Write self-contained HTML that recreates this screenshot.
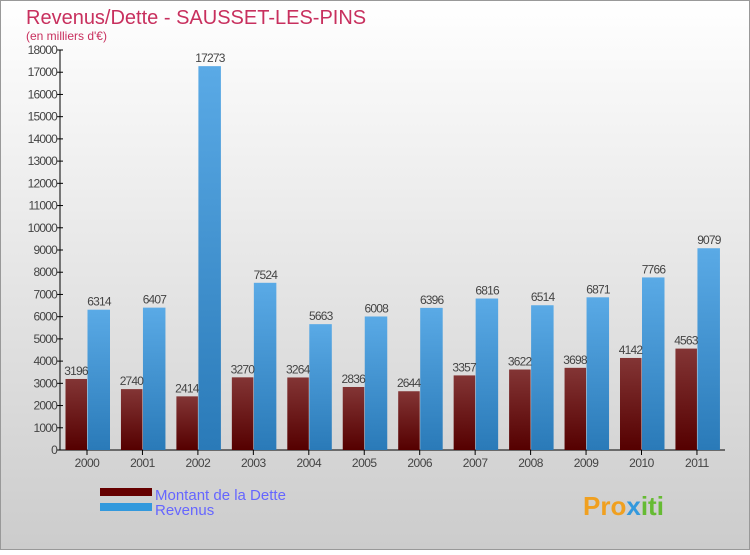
<!DOCTYPE html>
<html><head><meta charset="utf-8"><style>
body{margin:0;width:750px;height:550px;overflow:hidden;font-family:"Liberation Sans",sans-serif}
</style></head><body>
<svg id="c" width="750" height="550" xmlns="http://www.w3.org/2000/svg">
<defs>
<linearGradient id="bg" x1="0" y1="0" x2="0" y2="1"><stop offset="0" stop-color="#ffffff"/><stop offset="1" stop-color="#cccccc"/></linearGradient>
<linearGradient id="gd" x1="0" y1="0" x2="0" y2="1"><stop offset="0" stop-color="#833535"/><stop offset="1" stop-color="#550000"/></linearGradient>
<linearGradient id="gr" x1="0" y1="0" x2="0" y2="1"><stop offset="0" stop-color="#5aaae6"/><stop offset="1" stop-color="#2a7ab8"/></linearGradient>
</defs>
<rect x="0.5" y="0.5" width="749" height="549" fill="url(#bg)" stroke="#999"/>
<text x="26" y="24" font-size="20" fill="#c8305e">Revenus/Dette - SAUSSET-LES-PINS</text>
<text x="26" y="40" font-size="12" fill="#c8305e">(en milliers d'€)</text>
<g id="g"></g>
<rect x="100" y="488" width="52" height="8" fill="#660000"/>
<rect x="100" y="503" width="52" height="8" fill="#3399dd"/>
<text x="155" y="500" font-size="15" fill="#6666ff">Montant de la Dette</text>
<text x="155" y="515" font-size="15" fill="#6666ff">Revenus</text>
<text x="583" y="515" font-size="26" font-weight="bold" fill="#f0a020">Pro<tspan fill="#3399dd">x</tspan><tspan fill="#66bb33">iti</tspan></text>
</svg>
<script>
const years=["2000","2001","2002","2003","2004","2005","2006","2007","2008","2009","2010","2011"];
const dette=[3196,2740,2414,3270,3264,2836,2644,3357,3622,3698,4142,4563];
const revenus=[6314,6407,17273,7524,5663,6008,6396,6816,6514,6871,7766,9079];
const ticks=[0,1000,2000,3000,4000,5000,6000,7000,8000,9000,10000,11000,12000,13000,14000,15000,16000,17000,18000];
const NS="http://www.w3.org/2000/svg",g=document.getElementById('g');
const y=v=>450-v*400/18000, x=i=>87+i*55.45;
function mk(t,a,txt){const e=document.createElementNS(NS,t);for(const k in a)e.setAttribute(k,a[k]);if(txt!=null)e.textContent=txt;g.appendChild(e);return e;}
let e=mk('line',{x1:60,y1:50,x2:60,y2:450,stroke:'#000'});


e=mk('line',{x1:60,y1:450,x2:725,y2:450,stroke:'#000'});


ticks.forEach(t=>{
 e=mk('line',{x1:57,y1:y(t),x2:63,y2:y(t),stroke:'#000'});
 
 
 e=mk('text',{x:57,y:y(t)+4,'font-size':12,'text-anchor':'end',fill:'#444','letter-spacing':'-0.8'},t);
 
 
});
years.forEach((yr,i)=>{
 const cx=x(i);
 e=mk('line',{x1:cx,y1:450,x2:cx,y2:455,stroke:'#000'});
 
 
 e=mk('text',{x:cx,y:467,'font-size':12,'text-anchor':'middle',fill:'#444','letter-spacing':'-0.5'},yr);
 
 
 e=mk('rect',{x:cx-21.5,y:y(dette[i]),width:21.5,height:450-y(dette[i]),fill:'url(#gd)'});
 
 
 e=mk('rect',{x:cx+0.5,y:y(revenus[i]),width:22.5,height:450-y(revenus[i]),fill:'url(#gr)'});
 
 
 e=mk('text',{x:cx-11,y:y(dette[i])-4,'font-size':12,'text-anchor':'middle',fill:'#444','letter-spacing':'-0.8'},dette[i]);
 
 
 e=mk('text',{x:cx+12,y:y(revenus[i])-4,'font-size':12,'text-anchor':'middle',fill:'#444','letter-spacing':'-0.8'},revenus[i]);
 
 
});
</script>
</body></html>
